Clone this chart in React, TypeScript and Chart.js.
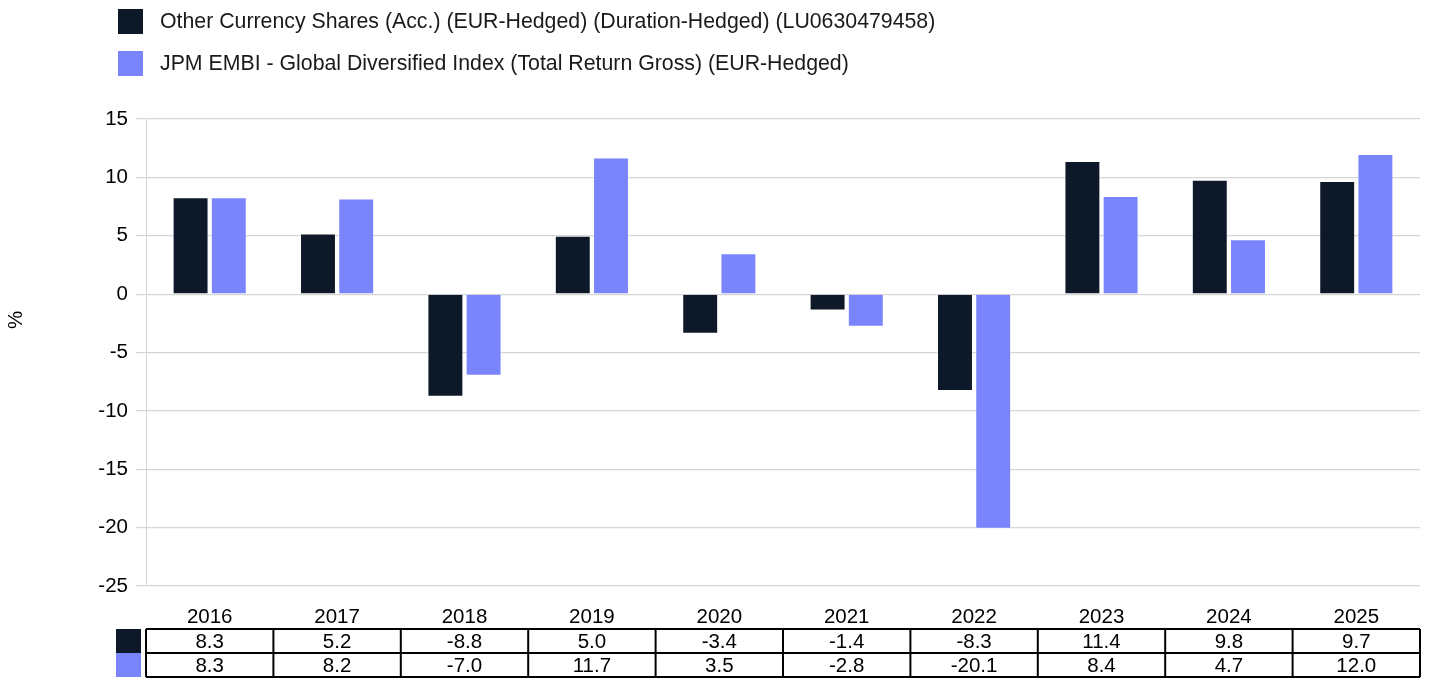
import React, { useEffect, useRef } from "react";
import { Chart, registerables } from "chart.js";

Chart.register(...registerables);

const categories = ["2016", "2017", "2018", "2019", "2020", "2021", "2022", "2023", "2024", "2025"];
const seriesLabels = [
  "Other Currency Shares (Acc.) (EUR-Hedged) (Duration-Hedged) (LU0630479458)",
  "JPM EMBI - Global Diversified Index (Total Return Gross) (EUR-Hedged)",
];
const fundValues = [8.3, 5.2, -8.8, 5.0, -3.4, -1.4, -8.3, 11.4, 9.8, 9.7];
const indexValues = [8.3, 8.2, -7.0, 11.7, 3.5, -2.8, -20.1, 8.4, 4.7, 12.0];
const seriesColors = ["#0d1928", "#7a84fc"];
const yAxisTitle = "%";

const FONT = "'Liberation Sans', Arial, sans-serif";
const FS = 20.5;

const tablePlugin = {
  id: "dataTable",
  afterDraw(chart: any) {
    const ctx = chart.ctx;
    const x = chart.scales.x;
    const area = chart.chartArea;
    const n = categories.length;
    const w = (area.right - area.left) / n;
    const top = 629;
    const rowH = 24;
    const rows = [fundValues, indexValues];
    ctx.save();
    // y-axis title
    ctx.fillStyle = "#000";
    ctx.font = `${FS}px ${FONT}`;
    ctx.textAlign = "center";
    ctx.textBaseline = "middle";
    ctx.save();
    ctx.translate(16, 320);
    ctx.rotate(-Math.PI / 2);
    ctx.fillText(yAxisTitle, 0, 0);
    ctx.restore();
    // swatches
    rows.forEach((_, r) => {
      ctx.fillStyle = seriesColors[r];
      ctx.fillRect(area.left - 30, top + r * rowH, 25, rowH);
    });
    ctx.strokeStyle = "#000";
    ctx.lineWidth = 2;
    ctx.beginPath();
    for (let r = 0; r <= rows.length; r++) {
      const y = top + r * rowH;
      ctx.moveTo(area.left, y);
      ctx.lineTo(area.right, y);
    }
    for (let i = 0; i <= n; i++) {
      const cx = i < n ? x.getPixelForValue(i) - w / 2 : x.getPixelForValue(n - 1) + w / 2;
      ctx.moveTo(cx, top);
      ctx.lineTo(cx, top + rows.length * rowH);
    }
    ctx.stroke();
    ctx.fillStyle = "#000";
    rows.forEach((vals, r) => {
      vals.forEach((v, i) => {
        ctx.fillText(v.toFixed(1), x.getPixelForValue(i), top + r * rowH + rowH / 2 + 1);
      });
    });
    ctx.restore();
  },
};

export default function App() {
  const ref = useRef<HTMLCanvasElement | null>(null);
  useEffect(() => {
    document.body.style.margin = "0";
    const chart = new Chart(ref.current as HTMLCanvasElement, {
      type: "bar",
      data: {
        labels: categories,
        datasets: [
          {
            label: seriesLabels[0],
            data: fundValues,
            backgroundColor: seriesColors[0],
            borderColor: "rgba(255,255,255,0.35)",
            borderWidth: 1,
          },
          {
            label: seriesLabels[1],
            data: indexValues,
            backgroundColor: seriesColors[1],
            borderColor: "rgba(255,255,255,0.35)",
            borderWidth: 1,
          },
        ],
      },
      options: {
        animation: false,
        responsive: false,
        maintainAspectRatio: false,
        layout: { padding: { top: 119, right: 9, bottom: 50, left: 0 } },
        datasets: { bar: { categoryPercentage: 0.6, barPercentage: 0.94 } },
        plugins: { legend: { display: false }, tooltip: { enabled: false } },
        scales: {
          x: {
            grid: { display: false },
            border: { display: false },
            ticks: { color: "#000", font: { family: FONT, size: FS }, padding: 11, maxRotation: 0 },
            afterFit(scale: any) {
              scale.height = 43;
            },
          },
          y: {
            min: -25,
            max: 15,
            ticks: { stepSize: 5, color: "#000", font: { family: FONT, size: FS }, padding: 8 },
            grid: { color: "#d6d6d6", lineWidth: 1.2, tickLength: 10 },
            border: { display: true, color: "#d6d6d6" },
            afterFit(scale: any) {
              scale.width = 146;
            },
          },
        },
      },
      plugins: [tablePlugin],
    });
    return () => chart.destroy();
  }, []);

  return (
    <div style={{ position: "relative", width: 1429, height: 679, fontFamily: FONT }}>
      <canvas ref={ref} width={1429} height={679} style={{ display: "block" }} />
      {seriesLabels.map((label, i) => (
        <div
          key={label}
          style={{
            position: "absolute",
            left: 118,
            top: 9 + i * 42,
            height: 25,
            display: "flex",
            alignItems: "center",
            whiteSpace: "nowrap",
            fontSize: 21.3,
            color: "#1a1a1a",
          }}
        >
          <span style={{ display: "inline-block", width: 25, height: 25, background: seriesColors[i], marginRight: 17, flex: "none" }} />
          <span>{label}</span>
        </div>
      ))}
    </div>
  );
}
